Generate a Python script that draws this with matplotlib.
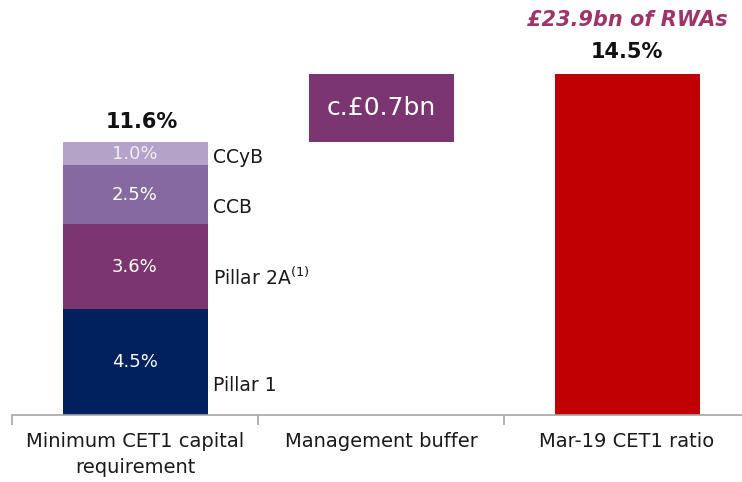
import matplotlib
matplotlib.use("Agg")
import matplotlib.pyplot as plt
import numpy as np

plt.rcParams['font.family'] = ['DejaVu Sans']

categories = ["Minimum CET1 capital\nrequirement", "Management buffer", "Mar-19 CET1 ratio"]
stack_names = ["Pillar 1", "Pillar 2A$^{(1)}$", "CCB", "CCyB"]
stack_values = [4.5, 3.6, 2.5, 1.0]
stack_colors = ["#00215E", "#7B3671", "#866A9F", "#B4A2C8"]
stack_label_colors = ["#FFFFFF", "#FFFFFF", "#FFFFFF", "#F2EEF6"]
side_offsets_pt = [-17, -8, -9, -3]
buffer_label = "c.£0.7bn"
buffer_color = "#7B3671"
cet1_ratio = 14.5
cet1_color = "#C00000"
rwa_text = "£23.9bn of RWAs"
rwa_color = "#9E3468"

fig = plt.figure(figsize=(7.42, 4.82), dpi=100)
base_px = 415
ppu = 23.55
ymax = 17.5
ax = fig.add_axes([12/742, (482-base_px)/482, 738/742, ymax*ppu/482])
ax.set_xlim(-0.5, 2.5)
ax.set_ylim(0, ymax)

width = 145/246
x = np.arange(3)

# stacked first bar
bottom = 0
total_min = sum(stack_values)
for v, c, lc, name, off in zip(stack_values, stack_colors, stack_label_colors, stack_names, side_offsets_pt):
    ax.bar(x[0], v, width, bottom=bottom, color=c, linewidth=0)
    ax.text(x[0], bottom + v/2, f"{v:.1f}%", ha="center", va="center", color=lc, fontsize=13)
    ax.annotate(name, xy=(x[0] + width/2, bottom + v/2), xytext=(4, off), textcoords="offset points",
                ha="left", va="center", fontsize=13.5, color="#1A1A1A")
    bottom += v
ax.annotate(f"{total_min:.1f}%", xy=(x[0], total_min), xytext=(5, 7), textcoords="offset points",
            ha="center", va="bottom", fontsize=15, fontweight="bold", color="#111111")

# management buffer
buf_h = cet1_ratio - total_min
ax.bar(x[1], buf_h, width, bottom=total_min, color=buffer_color, linewidth=0)
ax.text(x[1], total_min + buf_h/2, buffer_label, ha="center", va="center", color="white", fontsize=18)

# CET1 ratio
ax.bar(x[2], cet1_ratio, width, color=cet1_color, linewidth=0)
ax.annotate(f"{cet1_ratio:.1f}%", xy=(x[2], cet1_ratio), xytext=(0, 8), textcoords="offset points",
            ha="center", va="bottom", fontsize=15, fontweight="bold", color="#111111")
ax.annotate(rwa_text, xy=(x[2], cet1_ratio), xytext=(0, 31), textcoords="offset points",
            ha="center", va="bottom", fontsize=15, fontweight="bold", style="italic", color=rwa_color)

# axes styling
for s in ["top", "right", "left"]:
    ax.spines[s].set_visible(False)
ax.spines["bottom"].set_color("#A6A6A6")
ax.spines["bottom"].set_linewidth(1.2)
ax.set_yticks([])
ax.set_xticks(x)
ax.set_xticklabels(categories, fontsize=14, color="#1A1A1A", linespacing=1.5)
ax.tick_params(axis="x", which="major", length=0, pad=12)
ax.set_xticks([-0.5, 0.5, 1.5], minor=True)
ax.tick_params(axis="x", which="minor", length=7, width=1.2, color="#A6A6A6", direction="out")

fig.savefig("out.png", dpi=100)
